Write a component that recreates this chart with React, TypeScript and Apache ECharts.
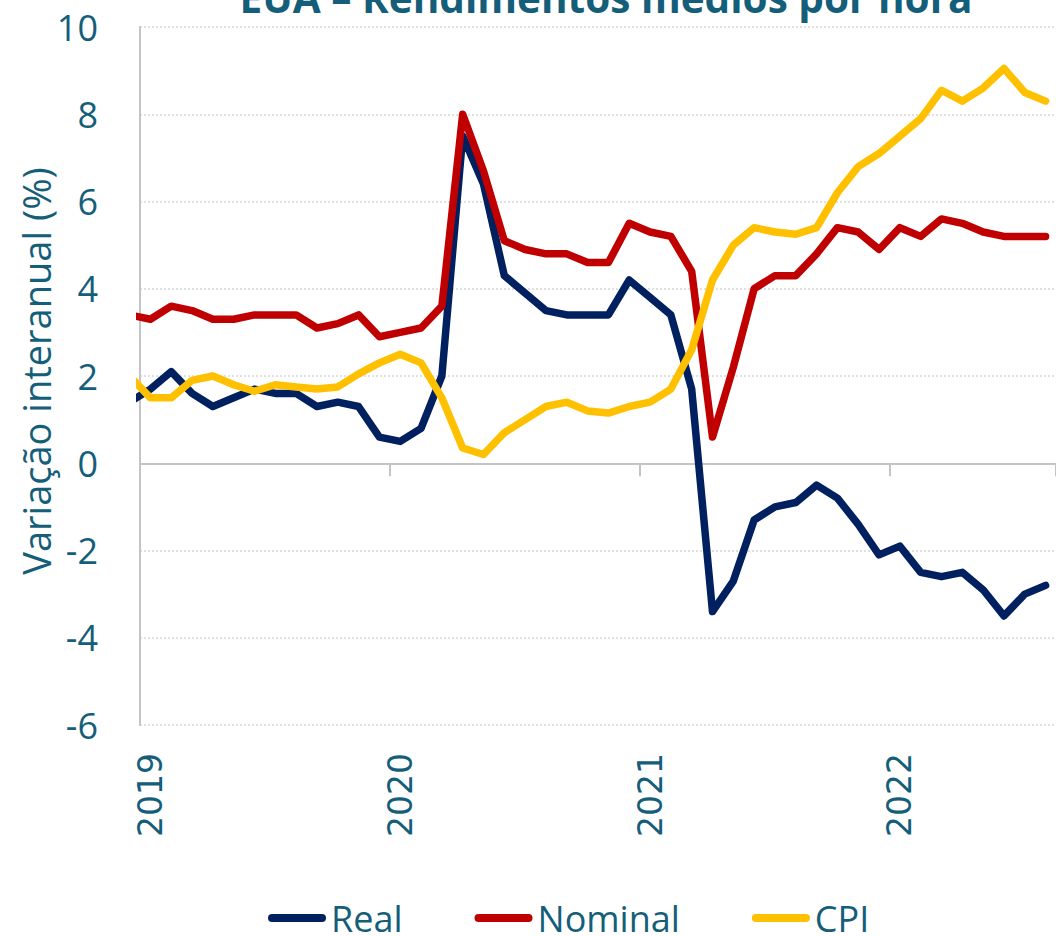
import React, { useEffect, useRef } from "react";
import * as echarts from "echarts";

const months = [
  "2018-12",
  "2019-01", "2019-02", "2019-03", "2019-04", "2019-05", "2019-06",
  "2019-07", "2019-08", "2019-09", "2019-10", "2019-11", "2019-12",
  "2020-01", "2020-02", "2020-03", "2020-04", "2020-05", "2020-06",
  "2020-07", "2020-08", "2020-09", "2020-10", "2020-11", "2020-12",
  "2021-01", "2021-02", "2021-03", "2021-04", "2021-05", "2021-06",
  "2021-07", "2021-08", "2021-09", "2021-10", "2021-11", "2021-12",
  "2022-01", "2022-02", "2022-03", "2022-04", "2022-05", "2022-06",
  "2022-07", "2022-08",
];

const real = [
  1.4,
  1.7, 2.1, 1.6, 1.3, 1.5, 1.7, 1.6, 1.6, 1.3, 1.4, 1.3, 0.6,
  0.5, 0.8, 2.0, 7.5, 6.4, 4.3, 3.9, 3.5, 3.4, 3.4, 3.4, 4.2,
  3.8, 3.4, 1.7, -3.4, -2.7, -1.3, -1.0, -0.9, -0.5, -0.8, -1.4, -2.1,
  -1.9, -2.5, -2.6, -2.5, -2.9, -3.5, -3.0, -2.8,
];

const nominal = [
  3.4,
  3.3, 3.6, 3.5, 3.3, 3.3, 3.4, 3.4, 3.4, 3.1, 3.2, 3.4, 2.9,
  3.0, 3.1, 3.6, 8.0, 6.7, 5.1, 4.9, 4.8, 4.8, 4.6, 4.6, 5.5,
  5.3, 5.2, 4.4, 0.6, 2.2, 4.0, 4.3, 4.3, 4.8, 5.4, 5.3, 4.9,
  5.4, 5.2, 5.6, 5.5, 5.3, 5.2, 5.2, 5.2,
];

const cpi = [
  2.0,
  1.5, 1.5, 1.9, 2.0, 1.8, 1.65, 1.8, 1.75, 1.7, 1.75, 2.05, 2.3,
  2.5, 2.3, 1.5, 0.35, 0.2, 0.7, 1.0, 1.3, 1.4, 1.2, 1.15, 1.3,
  1.4, 1.7, 2.6, 4.2, 5.0, 5.4, 5.3, 5.25, 5.4, 6.2, 6.8, 7.1,
  7.5, 7.9, 8.55, 8.3, 8.6, 9.05, 8.5, 8.3,
];

const seriesNames = ["Real", "Nominal", "CPI"];
const seriesColors = ["#002060", "#C00000", "#FFC000"];

const TITLE = "EUA – Rendimentos médios por hora";
const Y_NAME = "Variação interanual (%)";
const TEXT_COLOR = "#145E7A";
const FONT = "'Open Sans'";

const isJan = (_i: number, v: string) => v.endsWith("-01");

export default function App() {
  const ref = useRef<HTMLDivElement>(null);

  useEffect(() => {
    if (!ref.current) return;
    const chart = echarts.init(ref.current, null, { renderer: "svg" });
    const seriesData = [real, nominal, cpi];
    chart.setOption({
      animation: false,
      backgroundColor: "#ffffff",
      grid: { left: 140, right: 0, top: 27, bottom: 211, containLabel: false },
      graphic: [
        {
          type: "text",
          x: 606,
          y: -3,
          style: {
            text: TITLE,
            fill: TEXT_COLOR,
            font: "bold 40.5px 'Open Sans'",
            textAlign: "center",
            textVerticalAlign: "middle",
          },
        },
        {
          type: "text",
          x: 36,
          y: 371,
          rotation: Math.PI / 2,
          style: {
            text: Y_NAME,
            fill: TEXT_COLOR,
            font: "38px 'Open Sans'",
            textAlign: "center",
            textVerticalAlign: "middle",
          },
        },
      ],
      legend: {
        left: 263,
        top: 895,
        itemGap: 72,
        itemWidth: 58,
        itemHeight: 8,
        icon: "path://M4 0H54A4 4 0 0 1 54 8H4A4 4 0 0 1 4 0Z",
        textStyle: {
          color: TEXT_COLOR,
          fontFamily: FONT,
          fontSize: 36,
          lineHeight: 36,
        },
        data: seriesNames,
      },
      xAxis: [
        {
          type: "category",
          data: months,
          min: 1,
          boundaryGap: true,
          position: "bottom",
          axisLine: { show: false, onZero: false },
          axisTick: { show: false },
          splitLine: { show: false },
          axisLabel: {
            interval: isJan,
            rotate: 90,
            margin: 28,
            color: TEXT_COLOR,
            fontFamily: "'DejaVu Sans'",
            fontSize: 33,
            formatter: (v: string) => v.slice(0, 4),
          },
        },
        {
          type: "category",
          data: months,
          min: 1,
          boundaryGap: true,
          position: "bottom",
          axisLine: { show: true, onZero: true, lineStyle: { color: "#C4C4C4", width: 2 } },
          axisTick: {
            show: true,
            interval: isJan,
            length: 13,
            lineStyle: { color: "#C4C4C4", width: 2 },
          },
          axisLabel: { show: false },
          splitLine: { show: false },
        },
      ],
      yAxis: {
        type: "value",
        min: -6,
        max: 10,
        interval: 2,
        axisLine: { show: true, onZero: false, lineStyle: { color: "#C4C4C4", width: 2 } },
        axisTick: { show: false },
        axisLabel: {
          color: TEXT_COLOR,
          fontFamily: FONT,
          fontSize: 36,
          margin: 42,
        },
        splitLine: {
          show: true,
          lineStyle: { color: "#D6D6D6", width: 1.5, type: [2, 2] },
        },
      },
      series: seriesNames.map((name, i) => ({
        name,
        type: "line",
        data: seriesData[i],
        xAxisIndex: 0,
        yAxisIndex: 0,
        symbol: "none",
        clip: true,
        color: seriesColors[i],
        lineStyle: { width: 7.5, color: seriesColors[i], cap: "round", join: "round" },
        z: 3 + i,
      })),
    });
    return () => chart.dispose();
  }, []);

  return (
    <div
      ref={ref}
      style={{ position: "absolute", left: 0, top: 0, width: 1056, height: 936 }}
    />
  );
}
